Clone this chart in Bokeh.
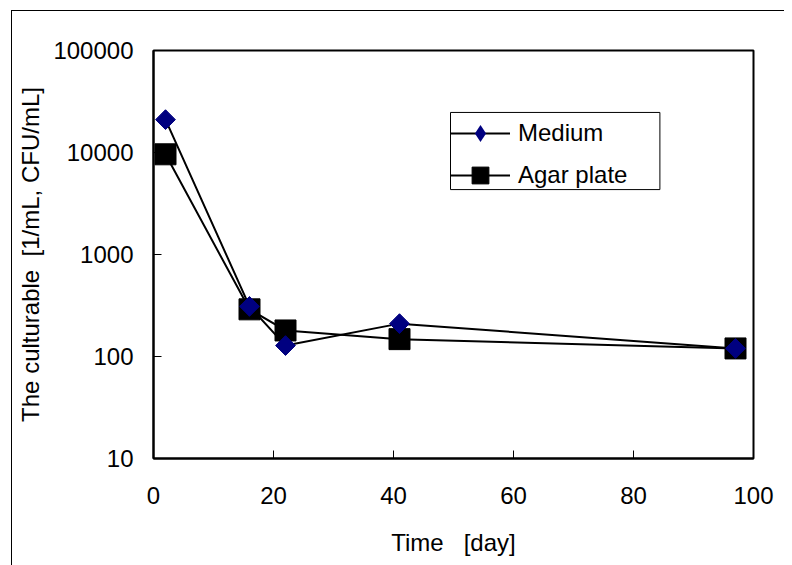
import math
from bokeh.plotting import figure
from bokeh.models import (FixedTicker, Legend, LegendItem, Range1d, BoxAnnotation,
                          ColumnDataSource)
from bokeh.embed import file_html
from bokeh.resources import INLINE

# Data
days = [2, 16, 22, 41, 97]
medium = [21000, 310, 128, 210, 120]
agar = [9600, 290, 180, 148, 120]

x_ticks = [0, 20, 40, 60, 80, 100]
y_ticks = [10, 100, 1000, 10000, 100000]
y_tick_labels = ["10", "100", "1000", "10000", "100000"]

FONT = "Liberation Sans"
NB = "\u00a0"

p = figure(width=773, height=555, output_backend="svg", toolbar_location=None,
           y_axis_type="log", x_range=Range1d(0, 100), y_range=Range1d(10, 100000),
           min_border_left=141, min_border_top=39, min_border_right=32, min_border_bottom=108,
           margin=(10, 0, 0, 11))
p.styles = {"border-left": "1px solid black", "border-top": "1px solid black"}

p.xgrid.visible = False
p.ygrid.visible = False
p.outline_line_color = "black"
p.outline_line_width = 2
p.background_fill_color = "white"
p.border_fill_color = "white"

for ax in (p.xaxis[0], p.yaxis[0]):
    ax.axis_line_width = 2
    ax.axis_line_color = "black"
    ax.major_tick_in = 8
    ax.major_tick_out = 0
    ax.major_tick_line_width = 1
    ax.minor_tick_line_color = None
    ax.major_label_text_font = FONT
    ax.major_label_text_font_size = "24px"
    ax.major_label_text_color = "black"
    ax.axis_label_text_font = FONT
    ax.axis_label_text_font_size = "24px"
    ax.axis_label_text_font_style = "normal"
    ax.axis_label_text_color = "black"

p.xaxis.ticker = FixedTicker(ticks=x_ticks)
p.xaxis.major_label_standoff = 28
p.xaxis.axis_label = "Time" + NB * 3 + "[day]"
p.xaxis.axis_label_standoff = 22

p.yaxis.ticker = FixedTicker(ticks=y_ticks)
p.yaxis.major_label_overrides = {t: l for t, l in zip(y_ticks, y_tick_labels)}
p.yaxis.major_label_standoff = 20
p.yaxis.axis_label = "The culturable" + NB * 2 + "[1/mL, CFU/mL]"
p.yaxis.axis_label_standoff = 6

src_m = ColumnDataSource(dict(x=days, y=medium))
src_a = ColumnDataSource(dict(x=days, y=agar))

l_m = p.line("x", "y", source=src_m, line_color="black", line_width=2)
l_a = p.line("x", "y", source=src_a, line_color="black", line_width=2)
# diamond glyph used for the legend; it sits fully under the rotated squares below
s_m_leg = p.scatter("x", "y", source=src_m, marker="diamond", size=19,
                    fill_color="#000080", line_color=None)
s_a = p.scatter("x", "y", source=src_a, marker="square", size=21,
                fill_color="black", line_color="black")
s_m = p.scatter("x", "y", source=src_m, marker="square", size=14, angle=math.pi / 4,
                fill_color="#000080", line_color="#000080")

# legend frame
p.add_layout(BoxAnnotation(left=49.5, right=84.4, top=24700, bottom=4330,
                           fill_color=None, fill_alpha=0, line_color="black",
                           line_alpha=1, line_width=1))

legend = Legend(items=[LegendItem(label="Medium", renderers=[l_m, s_m_leg]),
                       LegendItem(label="Agar plate", renderers=[l_a, s_a])],
                location=(297, 262))
legend.label_text_font = FONT
legend.label_text_font_size = "24px"
legend.label_text_color = "black"
legend.glyph_width = 60
legend.glyph_height = 42
legend.label_height = 25
legend.label_width = 125
legend.label_standoff = 8
legend.spacing = 0
legend.padding = 9
legend.margin = 0
legend.border_line_color = None
legend.background_fill_color = None
legend.background_fill_alpha = 0
p.add_layout(legend, "center")

open("out.html", "w").write(file_html(p, INLINE))
